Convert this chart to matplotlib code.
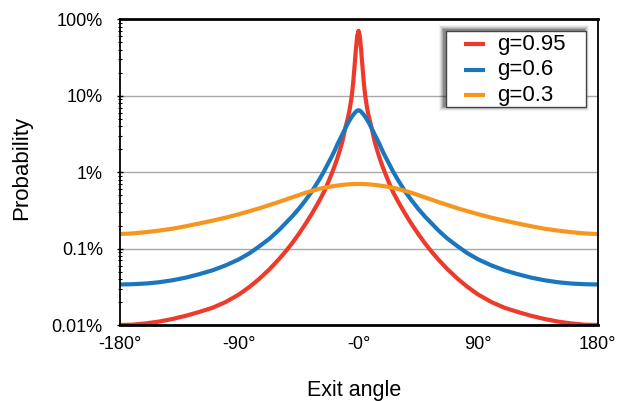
import matplotlib
matplotlib.use("Agg")
import matplotlib.pyplot as plt
from matplotlib.patches import Rectangle
from matplotlib.lines import Line2D
from matplotlib.ticker import LogLocator, NullFormatter, FixedLocator

plt.rcParams['font.family'] = ['Liberation Sans', 'DejaVu Sans']

# Exit angle (degrees), 0..180 half; the chart is mirror symmetric about 0
half_angles = [0, 1, 2, 3, 4, 5, 6, 7, 8, 10, 12, 14, 16, 18, 20, 23, 26, 30, 35, 40, 45, 50,
               55, 60, 67, 75, 82, 90, 100, 110, 120, 130, 140, 150, 160, 170, 180]

# Probability in percent (same order as half_angles)
half_g095 = [70.8, 60.3, 39.8, 24.0, 14.8, 10.2, 7.76, 6.17, 5.13, 3.72, 2.57, 1.95, 1.51, 1.20,
             0.977, 0.724, 0.550, 0.407, 0.288, 0.209, 0.155, 0.1175, 0.0912, 0.0724, 0.0537,
             0.0398, 0.0316, 0.0251, 0.0200, 0.0168, 0.0148, 0.0132, 0.0120, 0.0111, 0.0105,
             0.0101, 0.0100]
half_g06 = [6.46, 6.38, 6.17, 5.89, 5.62, 5.31, 5.01, 4.68, 4.37, 3.72, 3.16, 2.69, 2.29, 1.91,
            1.62, 1.29, 1.02, 0.776, 0.562, 0.427, 0.331, 0.263, 0.214, 0.174, 0.135, 0.106,
            0.0871, 0.0724, 0.0603, 0.0519, 0.0462, 0.0417, 0.0385, 0.0363, 0.0349, 0.0342, 0.0339]
half_g03 = [0.700, 0.700, 0.699, 0.699, 0.698, 0.697, 0.696, 0.694, 0.692, 0.687, 0.681, 0.675,
            0.668, 0.660, 0.652, 0.638, 0.624, 0.603, 0.569, 0.537, 0.501, 0.468, 0.437, 0.407,
            0.372, 0.335, 0.309, 0.282, 0.254, 0.232, 0.213, 0.196, 0.182, 0.172, 0.164, 0.158, 0.155]


def mirror(xs, neg=False):
    left = [-v for v in reversed(xs[1:])] if neg else list(reversed(xs[1:]))
    return left + list(xs)


angles = mirror(half_angles, neg=True)
series = [("g=0.95", mirror(half_g095), "#EE3A2B"),
          ("g=0.6", mirror(half_g06), "#1B77BD"),
          ("g=0.3", mirror(half_g03), "#F7961F")]

xticks = [-180, -90, 0, 90, 180]
xticklabels = ["-180°", "-90°", "-0°", "90°", "180°"]
yticks = [0.01, 0.1, 1, 10, 100]
yticklabels = ["0.01%", "0.1%", "1%", "10%", "100%"]

W, H = 617, 401
fig = plt.figure(figsize=(W / 100, H / 100), dpi=100)
ax = fig.add_axes([119.5 / W, 1 - 325 / H, 478 / W, 305.7 / H])

for label, vals, color in series:
    ax.plot(angles, vals, color=color, lw=3.0, label=label, solid_joinstyle='round', zorder=3)

ax.set_yscale('log')
ax.set_xlim(-180, 180)
ax.set_ylim(0.01, 100)
ax.set_xticks(xticks)
ax.set_xticklabels(xticklabels)
ax.yaxis.set_major_locator(FixedLocator(yticks))
ax.set_yticklabels(yticklabels)
ax.yaxis.set_minor_locator(LogLocator(base=10, subs=range(2, 10)))
ax.yaxis.set_minor_formatter(NullFormatter())

ax.tick_params(axis='x', length=0, pad=8, labelsize=13)
ax.tick_params(axis='y', which='major', direction='inout', length=4, width=1, pad=10, labelsize=13)
ax.tick_params(axis='y', which='minor', direction='inout', length=3, width=0.8)

ax.grid(axis='y', which='major', color='#A8A8A8', lw=1.0, zorder=1)
ax.set_axisbelow(True)

for s in ['top', 'bottom']:
    ax.spines[s].set_linewidth(2.0)
for s in ['left', 'right']:
    ax.spines[s].set_linewidth(1.3)
for s in ax.spines.values():
    s.set_color('black')
    s.set_zorder(4)

ax.set_xlabel("Exit angle", fontsize=15.5)
ax.xaxis.label.set_va('center')
ax.xaxis.set_label_coords(0.49, -0.214)
ax.set_ylabel("Probability", fontsize=16)
ax.yaxis.label.set_va('center')
ax.yaxis.set_label_coords(-0.205, 0.513)


def fx(px):
    return px / W


def fy(py):
    return 1 - py / H


bx0, bx1, by0, by1 = 445.5, 585.5, 31, 107
for i, a in enumerate([0.05, 0.07, 0.10, 0.14, 0.20]):
    d = 5 - i
    r = Rectangle((fx(bx0 - d - 1.5), fy(by1 + d - 1)), fx(bx1 - bx0 + 2 * d), (2 * d + by1 - by0) / H,
                  transform=fig.transFigure, facecolor='black', edgecolor='none', alpha=a, zorder=5)
    fig.add_artist(r)
frame = Rectangle((fx(bx0), fy(by1)), fx(bx1 - bx0), (by1 - by0) / H, transform=fig.transFigure,
                  facecolor='white', edgecolor='#444444', lw=1.0, zorder=6)
fig.add_artist(frame)
rows_y = [44, 69.5, 95]
for (label, vals, color), ry in zip(series, rows_y):
    fig.add_artist(Line2D([fx(464), fx(485)], [fy(ry), fy(ry)], transform=fig.transFigure,
                          color=color, lw=3.0, solid_capstyle='butt', zorder=7))
    fig.text(fx(497.5), fy(ry + 0.5), label, fontsize=16, va='center', ha='left', zorder=7)

fig.savefig("out.png", dpi=100)
